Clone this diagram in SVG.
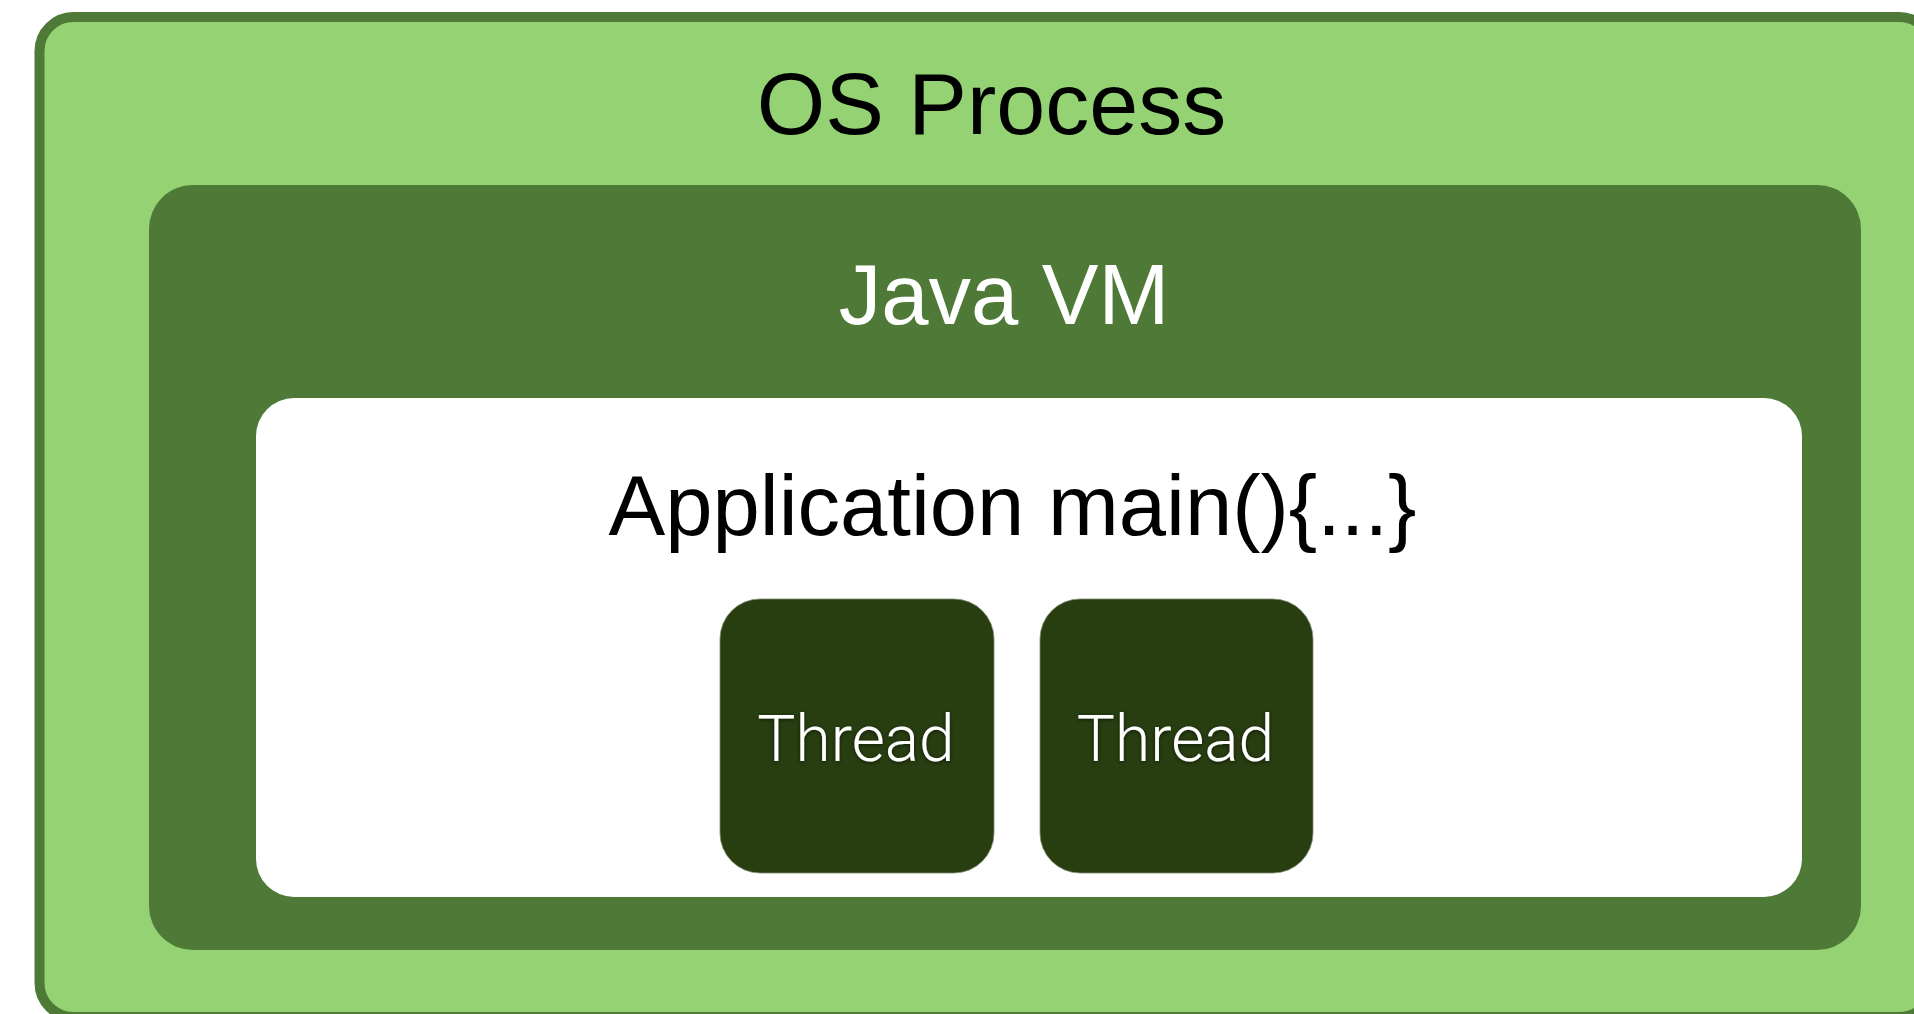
<svg xmlns="http://www.w3.org/2000/svg" width="1914" height="1014" viewBox="0 0 1914 1014">
<style>
.lbl{font-family:"Liberation Sans",Arial,Helvetica,sans-serif;text-anchor:middle}
.thread-box{fill:#283E10;stroke:#7d8a70;stroke-width:0.8}
.thread-text{font-family:Roboto,"Liberation Sans",Arial,sans-serif;font-weight:300;font-size:64px;fill:#ffffff;text-anchor:middle;filter:url(#glow)}
</style>
<defs>
<filter id="glow" x="-20%" y="-40%" width="140%" height="180%">
<feDropShadow dx="0" dy="1" stdDeviation="2" flood-color="#000000" flood-opacity="0.6"/>
</filter>
</defs>
<rect width="1914" height="1014" fill="#ffffff"/>
<g id="os-process">
<rect x="39.5" y="17" width="1893.5" height="1000" rx="34" ry="34" fill="#95D273" stroke="#4E7936" stroke-width="10"/>
<text class="lbl" x="991.5" y="134" font-size="88" fill="#000000">OS Process</text>
</g>
<g id="java-vm">
<rect x="149" y="185" width="1712" height="765" rx="44" ry="44" fill="#4E7936"/>
<text class="lbl" x="1004" y="323.5" font-size="85" fill="#ffffff">Java VM</text>
</g>
<g id="application">
<rect x="256" y="398" width="1546" height="499" rx="38" ry="38" fill="#ffffff"/>
<text class="lbl" x="1012.5" y="535" font-size="85" fill="#000000">Application main(){...}</text>
</g>
<g id="thread-1">
<rect class="thread-box" x="720" y="599" width="274" height="274" rx="40" ry="40"/>
<text class="thread-text" x="856" y="761">Thread</text>
</g>
<g id="thread-2">
<rect class="thread-box" x="1040" y="599" width="273" height="274" rx="40" ry="40"/>
<text class="thread-text" x="1175.5" y="761">Thread</text>
</g>
<g id="connectors"></g>
</svg>
